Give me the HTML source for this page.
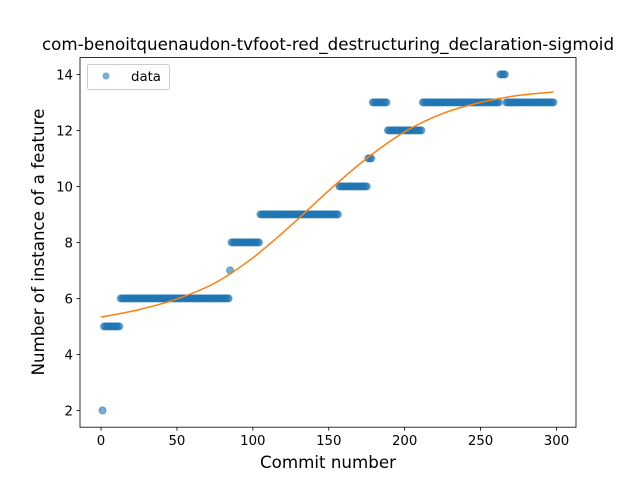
<!DOCTYPE html>
<html><head><meta charset="utf-8"><style>
body{margin:0;background:#fff}
svg text{font-family:"DejaVu Sans","Liberation Sans",sans-serif;fill:#000}
</style></head><body>
<svg id="chart" width="640" height="480" viewBox="0 0 640 480"></svg>
<script>
// step runs: [startX, endX, value]
const runStarts = [1, 2, 13, 85, 86, 105, 157, 176, 179, 189, 212, 263, 267];
const runEnds   = [1, 12, 84, 85, 104, 156, 175, 178, 188, 211, 262, 266, 298];
const runValues = [2, 5, 6, 7, 8, 9, 10, 11, 13, 12, 13, 14, 13];
// fitted sigmoid samples
const fitX = [0, 25, 50, 75, 100, 125, 150, 175, 200, 225, 250, 275, 298];
const fitY = [5.33, 5.6, 5.98, 6.55, 7.45, 8.6, 9.85, 11.0, 11.95, 12.6, 13.0, 13.25, 13.37];
const xTicks = [0, 50, 100, 150, 200, 250, 300];
const yTicks = [2, 4, 6, 8, 10, 12, 14];

const NS = "http://www.w3.org/2000/svg";
const svg = document.getElementById('chart');
const L = 80, R = 576, T = 57.6, B = 427.2;
const xmin = -13.85, xmax = 312.85, ymin = 1.4, ymax = 14.6;
const sx = v => L + (v - xmin) / (xmax - xmin) * (R - L);
const sy = v => B - (v - ymin) / (ymax - ymin) * (B - T);
function mk(tag, attrs, parent) {
  const e = document.createElementNS(NS, tag);
  for (const k in attrs) e.setAttribute(k, attrs[k]);
  (parent || svg).appendChild(e);
  return e;
}
const pts = mk('g', {});


for (let r = 0; r < runStarts.length; r++) {
  for (let x = runStarts[r]; x <= runEnds[r]; x++) {
    const c = mk('circle', {cx: sx(x), cy: sy(runValues[r]), r: 3.5, fill: '#1f77b4', 'fill-opacity': 0.6, stroke: '#1f77b4', 'stroke-opacity': 0.6, 'stroke-width': 1}, pts);
    
    
  }
}
// smooth curve (catmull-rom)
const P = fitX.map((x, i) => [sx(x), sy(fitY[i])]);
let d = `M${P[0][0]},${P[0][1]}`;
for (let i = 0; i < P.length - 1; i++) {
  const p0 = P[Math.max(i - 1, 0)], p1 = P[i], p2 = P[i + 1], p3 = P[Math.min(i + 2, P.length - 1)];
  d += ` C${p1[0] + (p2[0] - p0[0]) / 6},${p1[1] + (p2[1] - p0[1]) / 6} ${p2[0] - (p3[0] - p1[0]) / 6},${p2[1] - (p3[1] - p1[1]) / 6} ${p2[0]},${p2[1]}`;
}
const curve = mk('path', {d, fill: 'none', stroke: '#ff7f0e', 'stroke-width': 1.5});


// axes frame
const frame = mk('rect', {x: L, y: T, width: R - L, height: B - T, fill: 'none', stroke: '#000', 'stroke-width': 0.8});


xTicks.forEach(v => {
  const x = sx(v);
  const t = mk('line', {x1: x, x2: x, y1: B, y2: B + 3.5, stroke: '#000', 'stroke-width': 0.8});
  
  
  const l = mk('text', {x: x, y: B + 18, 'text-anchor': 'middle', 'font-size': 13.3});
  l.textContent = v;
  
  
});
yTicks.forEach(v => {
  const y = sy(v);
  const t = mk('line', {x1: L - 3.5, x2: L, y1: y, y2: y, stroke: '#000', 'stroke-width': 0.8});
  
  
  const l = mk('text', {x: L - 7, y: y + 5, 'text-anchor': 'end', 'font-size': 13.3});
  l.textContent = v;
  
  
});
</script>
<svg width="640" height="480" style="position:absolute;left:0;top:0">
<text x="328" y="50" text-anchor="middle" font-size="16.7">com-benoitquenaudon-tvfoot-red_destructuring_declaration-sigmoid</text>
<text x="328" y="468" text-anchor="middle" font-size="16.7">Commit number</text>
<text transform="translate(44,242) rotate(-90)" text-anchor="middle" font-size="16.7">Number of instance of a feature</text>
<g>
<rect x="87.5" y="64.5" width="82" height="25" rx="2" fill="#fff" fill-opacity="0.8" stroke="#ccc"/>
<circle cx="106" cy="76" r="3.5" fill="#1f77b4" fill-opacity="0.6"/>
<text x="131" y="81" font-size="13.3">data</text>
</g>
</svg>
</body></html>
